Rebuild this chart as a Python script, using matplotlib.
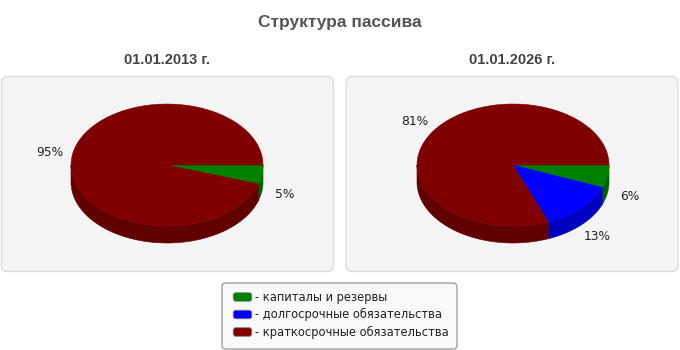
import numpy as np
import matplotlib
matplotlib.use("Agg")
import matplotlib.pyplot as plt
from matplotlib.patches import Polygon, FancyBboxPatch

title = "Структура пассива"
dates = ["01.01.2013 г.", "01.01.2026 г."]
categories = ["капиталы и резервы", "долгосрочные обязательства", "краткосрочные обязательства"]
values_2013 = [5, 0, 95]
values_2026 = [6, 13, 81]
top_colors = ["#008000", "#0000ff", "#800000"]
side_colors = ["#006000", "#0000c0", "#600000"]


def arc(cx, cy, rx, ry, t0, t1, dy=0.0, n=80):
    t = np.linspace(t0, t1, n)
    return np.column_stack([cx + rx * np.cos(t), cy + ry * np.sin(t) + dy])


def pie3d(ax, cx, cy, values, rx=96, ry=61, depth=17):
    total = float(sum(values))
    bounds = np.concatenate([[0], np.cumsum(values)]) / total * 2 * np.pi
    # side walls (front half only: 0..pi, y axis is inverted)
    for i, v in enumerate(values):
        if v <= 0:
            continue
        a0, a1 = bounds[i], bounds[i + 1]
        s0, s1 = max(a0, 0), min(a1, np.pi)
        if s1 > s0:
            top = arc(cx, cy, rx, ry, s0, s1)
            bot = arc(cx, cy, rx, ry, s1, s0, dy=depth)
            ax.add_patch(Polygon(np.vstack([top, bot]), closed=True,
                                 facecolor=side_colors[i], edgecolor=side_colors[i],
                                 lw=0.4, zorder=2))
    # top faces
    for i, v in enumerate(values):
        if v <= 0:
            continue
        a0, a1 = bounds[i], bounds[i + 1]
        pts = np.vstack([[cx, cy], arc(cx, cy, rx, ry, a0, a1)])
        ax.add_patch(Polygon(pts, closed=True, facecolor=top_colors[i],
                             edgecolor=top_colors[i], lw=0.4, zorder=3))
    # labels
    for i, v in enumerate(values):
        if v <= 0:
            continue
        m = (bounds[i] + bounds[i + 1]) / 2
        lx = cx + 1.24 * rx * np.cos(m)
        ly = cy + 1.27 * ry * np.sin(m) + (depth if np.sin(m) > 0 else 0)
        ax.text(lx, ly, f"{v}%", ha="center", va="center", fontsize=8.8,
                color="#222222", family="DejaVu Sans", zorder=4)


fig = plt.figure(figsize=(6.8, 3.5), dpi=100)
ax = fig.add_axes([0, 0, 1, 1])
ax.set_xlim(0, 680)
ax.set_ylim(350, 0)
ax.axis("off")

ax.text(340, 23, title, ha="center", va="center", fontsize=12.5,
        fontweight="bold", color="#555555", family="Liberation Sans")

panels = [(1.5, 76.5, 332, 195), (346, 76.5, 332, 195)]
centers = [(167, 165), (513, 165)]
for (px, py, pw, ph), (cx, cy), d, vals in zip(panels, centers, dates,
                                               [values_2013, values_2026]):
    ax.add_patch(FancyBboxPatch((px + 3, py + 3), pw - 6, ph - 6,
                                boxstyle="round,pad=3,rounding_size=6",
                                facecolor="#f4f4f4", edgecolor="#dcdcdc",
                                lw=1, zorder=1))
    ax.text(px + pw / 2, 60, d, ha="center", va="center", fontsize=10.5,
            fontweight="bold", color="#444444", family="Liberation Sans")
    pie3d(ax, cx, cy, vals)

# legend
ax.add_patch(FancyBboxPatch((225, 286), 229, 60,
                            boxstyle="round,pad=3,rounding_size=4",
                            facecolor="#f9f9f9", edgecolor="#a0a0a0", lw=1, zorder=1))
for i, name in enumerate(categories):
    y = 297 + i * 17.5
    ax.add_patch(FancyBboxPatch((234, y - 3.5), 17, 7,
                                boxstyle="round,pad=0.8,rounding_size=2.5",
                                facecolor=top_colors[i], edgecolor="#888888",
                                lw=0.6, zorder=2))
    ax.text(255, y, "- " + name, ha="left", va="center", fontsize=8.3,
            color="#222222", family="DejaVu Sans", zorder=3)

fig.savefig("out.png", dpi=100)
